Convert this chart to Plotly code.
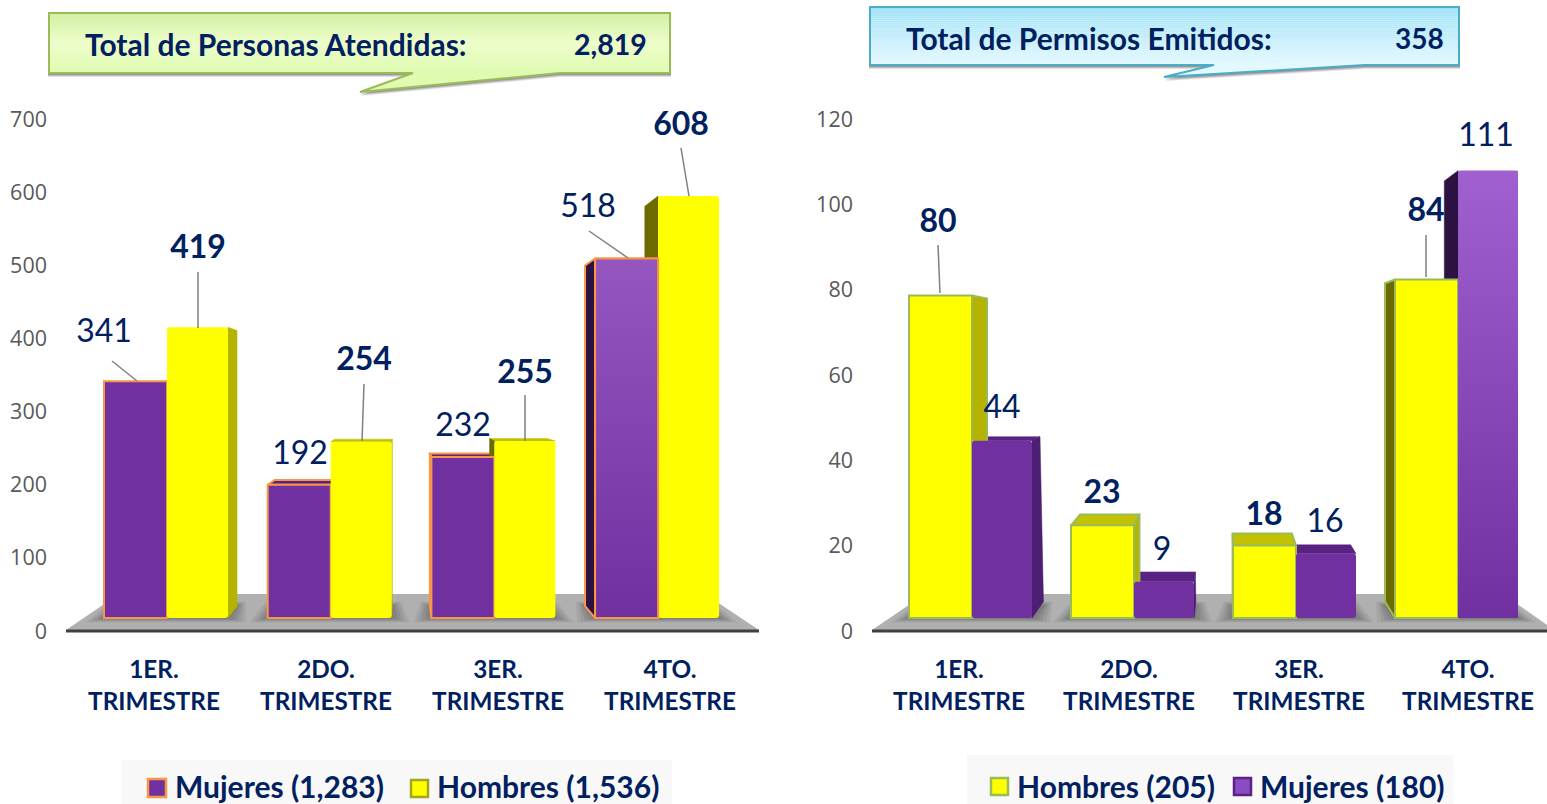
import plotly.graph_objects as go

W, H = 1547, 804
NAVY = "#002060"
PURPLE = "#7030a0"
YELLOW = "#ffff00"

# ---- data
quarters = ["1ER.<br>TRIMESTRE", "2DO.<br>TRIMESTRE", "3ER.<br>TRIMESTRE", "4TO.<br>TRIMESTRE"]
personas_mujeres = [341, 192, 232, 518]
personas_hombres = [419, 254, 255, 608]
permisos_hombres = [80, 23, 18, 84]
permisos_mujeres = [44, 9, 16, 111]
personas_ticks = [0, 100, 200, 300, 400, 500, 600, 700]
permisos_ticks = [0, 20, 40, 60, 80, 100, 120]

# ---- layout constants (pixels of the page)
AX_BOTTOM, AX_TOP, FLOOR_FRONT = 631, 119, 618
px = lambda x: x / W
py = lambda y: 1 - y / H

L = dict(left=66, right=759, ymax=700, c0=167, step=163.7, w1=63, w2=61, s=0.694,
         vp=(402, 392), k=0.052, ticks=[154, 326, 498, 670])
R = dict(left=872, right=1547, ymax=120, c0=972, step=162, w1=63, w2=60, s=4.03,
         vp=(1226, 344), k=0.059, ticks=[959, 1129, 1299, 1468])

FACE = dict(purple=dict(top="#5a2283", right="#4c1f72", left="#2c1240"),
            yellow=dict(top="#c2c200", right="#b4b400", left="#6b6b00"))

fig = go.Figure()
shapes, annots = [], []


def to_x(g, p):
    return (p - g["c0"]) / g["step"]


def to_y(g, p):
    return (AX_BOTTOM - p) * g["ymax"] / (AX_BOTTOM - AX_TOP)


def top_px(g, v):
    return FLOOR_FRONT - g["s"] * v


def back(g, x, y, f=1.0):
    return x + f * g["k"] * (g["vp"][0] - x), y + f * g["k"] * (g["vp"][1] - y)


def poly(g, pts, color, line, xa, ya, width=2):
    xs = [to_x(g, p[0]) for p in pts] + [to_x(g, pts[0][0])]
    ys = [to_y(g, p[1]) for p in pts] + [to_y(g, pts[0][1])]
    fig.add_trace(go.Scatter(x=xs, y=ys, mode="lines", fill="toself", fillcolor=color,
                             line=dict(color=line or color, width=width if line else 0.5),
                             xaxis=xa, yaxis=ya, showlegend=False, hoverinfo="skip"))


def depth_faces(g, values, sign, kind, outline, xa, ya, top_f=1.0):
    w = g["w1"] if sign < 0 else g["w2"]
    for i, v in enumerate(values):
        c = g["c0"] + g["step"] * i
        x0, x1 = (c - w, c) if sign < 0 else (c, c + w)
        t = top_px(g, v)
        col = FACE[kind]
        if t > g["vp"][1]:
            a, b = back(g, x0, t, top_f), back(g, x1, t, top_f)
            poly(g, [(x0, t), (x1, t), b, a], col["top"], outline, xa, ya)
        if x1 < g["vp"][0]:
            a, b = back(g, x1, t, top_f), back(g, x1, FLOOR_FRONT)
            poly(g, [(x1, t), a, b, (x1, FLOOR_FRONT)], col["right"], outline, xa, ya)
        elif x0 > g["vp"][0]:
            a, b = back(g, x0, t), back(g, x0, FLOOR_FRONT)
            poly(g, [(x0, t), a, b, (x0, FLOOR_FRONT)], col["left"], outline, xa, ya)


def front_bars(g, values, sign, name, color, outline, radius, xa, ya):
    w = (g["w1"] if sign < 0 else g["w2"]) / g["step"]
    base = to_y(g, FLOOR_FRONT)
    scale = g["s"] * g["ymax"] / (AX_BOTTOM - AX_TOP)
    fig.add_trace(go.Bar(x=list(range(4)), y=[v * scale for v in values], base=base,
                         width=w, offset=-w if sign < 0 else 0, name=name,
                         marker=dict(color=color, cornerradius=radius,
                                     line=dict(color=outline or color, width=2 if outline else 0)),
                         xaxis=xa, yaxis=ya, showlegend=False, customdata=values,
                         hovertemplate="%{customdata}<extra>" + name + "</extra>"))


def gradient_bar(g, v, sign, c_top, outline, xa, ya):
    w = g["w1"] if sign < 0 else g["w2"]
    c = g["c0"] + g["step"] * 3
    x0, x1 = (c - w, c) if sign < 0 else (c, c + w)
    t = top_px(g, v)
    xs = [to_x(g, x0), to_x(g, x1), to_x(g, x1), to_x(g, x0), to_x(g, x0)]
    ys = [to_y(g, t), to_y(g, t), to_y(g, FLOOR_FRONT), to_y(g, FLOOR_FRONT), to_y(g, t)]
    fig.add_trace(go.Scatter(x=xs, y=ys, mode="lines", fill="toself",
                             fillgradient=dict(type="vertical",
                                               colorscale=[[0, PURPLE], [1, c_top]]),
                             line=dict(color=outline or "rgba(0,0,0,0)", width=2 if outline else 0),
                             xaxis=xa, yaxis=ya, showlegend=False, hoverinfo="skip"))


def floor(g, back_l, back_r, front_l, front_r):
    shapes.append(dict(type="path", xref="paper", yref="paper", layer="below", line=dict(width=0),
                       fillcolor="#b0b0b0",
                       path=f"M{px(front_l)},{py(630)} L{px(back_l)},{py(594)} "
                            f"L{px(back_r)},{py(594)} L{px(front_r)},{py(630)} Z"))
    for i in range(4):
        c = g["c0"] + g["step"] * i
        left, right = c - g["w1"], c + g["w2"]
        bl, _ = back(g, left, FLOOR_FRONT)
        br, _ = back(g, right, FLOOR_FRONT)
        for pad, col in ((18, "#a6a6a6"), (14, "#9b9b9b"), (10, "#8f8f8f"), (6, "#848484"), (2, "#7a7a7a")):
            yt, yb = 606 - pad * 0.25, 618 + pad * 0.25
            shapes.append(dict(type="path", xref="paper", yref="paper", layer="below",
                               line=dict(width=0), fillcolor=col,
                               path=f"M{px(left - pad)},{py(yb)} L{px(bl - pad * 0.5)},{py(yt)} "
                                    f"L{px(br + pad * 0.5)},{py(yt)} L{px(right + pad)},{py(yb)} Z"))
    shapes.append(dict(type="line", xref="paper", yref="paper", layer="above",
                       x0=px(g["left"]), x1=px(g["right"]), y0=py(631), y1=py(631),
                       line=dict(color="#404040", width=3)))


def lerp(c1, c2, t):
    a = [int(c1[i:i + 2], 16) for i in (1, 3, 5)]
    b = [int(c2[i:i + 2], 16) for i in (1, 3, 5)]
    return "#" + "".join(f"{round(a[j] + (b[j] - a[j]) * t):02x}" for j in range(3))


def callout(x0, x1, y0, y1, tail, stops, border):
    tl, tip, tr = tail
    outline = (f"M{px(x0)},{py(y0)} L{px(x1)},{py(y0)} L{px(x1)},{py(y1)} L{px(tr)},{py(y1)} "
               f"L{px(tip[0])},{py(tip[1])} L{px(tl)},{py(y1)} L{px(x0)},{py(y1)} Z")
    for d, op in ((4, 0.12), (3, 0.15), (2, 0.2)):
        sh = (f"M{px(x0 - 1)},{py(y0 + d)} L{px(x1 + 1)},{py(y0 + d)} L{px(x1 + 1)},{py(y1 + d)} "
              f"L{px(tr)},{py(y1 + d)} L{px(tip[0])},{py(tip[1] + d)} L{px(tl)},{py(y1 + d)} "
              f"L{px(x0 - 1)},{py(y1 + d)} Z")
        shapes.append(dict(type="path", xref="paper", yref="paper", path=sh, fillcolor="#000000",
                           opacity=op, line=dict(width=0)))
    shapes.append(dict(type="path", xref="paper", yref="paper", path=outline, fillcolor=stops[-1],
                       line=dict(width=0)))
    n = 30
    for i in range(n):
        t = i / (n - 1)
        c = lerp(stops[0], stops[1], t / 0.5) if t < 0.5 else lerp(stops[1], stops[2], (t - 0.5) / 0.5)
        ya = y0 + (y1 - y0) * i / n
        yb = y0 + (y1 - y0) * (i + 1) / n
        shapes.append(dict(type="rect", xref="paper", yref="paper", x0=px(x0), x1=px(x1),
                           y0=py(ya), y1=py(yb), fillcolor=c, line=dict(width=0)))
    shapes.append(dict(type="path", xref="paper", yref="paper", path=outline,
                       line=dict(color=border, width=2)))


def text(x, y, s, size=30, color=NAVY, anchor="left", bold=True, fam="Lato"):
    annots.append(dict(x=px(x), y=py(y), xref="paper", yref="paper", xanchor=anchor, yanchor="middle",
                       text=f"<b>{s}</b>" if bold else s, showarrow=False, borderpad=0,
                       font=dict(family=fam, size=size, color=color)))


def swatch(x0, x1, y0, y1, fill, border):
    shapes.append(dict(type="rect", xref="paper", yref="paper", x0=px(x0), x1=px(x1),
                       y0=py(y0), y1=py(y1), fillcolor=fill, line=dict(color=border, width=2.5)))


def legend_box(x0, x1, y0, y1):
    shapes.append(dict(type="rect", xref="paper", yref="paper", layer="below", x0=px(x0), x1=px(x1),
                       y0=py(y0), y1=py(y1), fillcolor="#f8f8f8", line=dict(width=0)))


def labels(g, values, pos, bold, xa, ya):
    fig.add_trace(go.Scatter(
        x=[to_x(g, p[0]) for p in pos], y=[to_y(g, p[1] + 4) for p in pos], mode="text",
        text=[f"<b>{v}</b>" if bold else str(v) for v in values], textposition="middle center",
        textfont=dict(family="Lato", size=LABEL_SIZE, color=NAVY), cliponaxis=False,
        xaxis=xa, yaxis=ya, showlegend=False, hoverinfo="skip"))


def leaders(g, segs, xa, ya):
    xs, ys = [], []
    for a, b in segs:
        xs += [to_x(g, a[0]), to_x(g, b[0]), None]
        ys += [to_y(g, a[1]), to_y(g, b[1]), None]
    fig.add_trace(go.Scatter(x=xs, y=ys, mode="lines", line=dict(color="#7f7f7f", width=1.5),
                             xaxis=xa, yaxis=ya, showlegend=False, hoverinfo="skip"))


LABEL_SIZE = 32
ORANGE, GREEN = "#f79646", "#9bbb59"

# ---- left chart
floor(L, 119, 705, 66, 759)
depth_faces(L, personas_mujeres, -1, "purple", ORANGE, "x", "y")
depth_faces(L, personas_hombres, 1, "yellow", None, "x", "y")
front_bars(L, personas_mujeres, -1, "Mujeres", PURPLE, ORANGE, 0, "x3", "y3")
front_bars(L, personas_hombres, 1, "Hombres", YELLOW, None, 3, "x3", "y3")
gradient_bar(L, personas_mujeres[3], -1, "#9556c0", ORANGE, "x3", "y3")
leaders(L, [((112, 361), (137, 381)), ((198, 272), (198, 328)), ((364, 384), (362, 441)),
            ((525, 395), (525, 441)), ((589, 231), (628, 258)), ((681, 148), (689, 196))], "x3", "y3")
labels(L, personas_mujeres, [(104, 330), (300, 452), (463, 424), (588, 205)], False, "x3", "y3")
labels(L, personas_hombres, [(198, 246), (364, 358), (525, 371), (681, 123)], True, "x3", "y3")

# ---- right chart
floor(R, 925, 1503, 872, 1554)
depth_faces(R, permisos_mujeres, 1, "purple", None, "x2", "y2", top_f=0.7)
depth_faces(R, permisos_hombres, -1, "yellow", GREEN, "x2", "y2")
front_bars(R, permisos_hombres, -1, "Hombres", YELLOW, GREEN, 0, "x4", "y4")
front_bars(R, permisos_mujeres, 1, "Mujeres", PURPLE, None, 3, "x4", "y4")
gradient_bar(R, permisos_mujeres[3], 1, "#a060d0", None, "x4", "y4")
leaders(R, [((938, 245), (940, 293)), ((1426, 235), (1426, 277))], "x4", "y4")
labels(R, permisos_hombres, [(938, 220), (1102, 491), (1264, 513), (1426, 209)], True, "x4", "y4")
labels(R, permisos_mujeres, [(1002, 406), (1162, 548), (1325, 520), (1486, 134)], False, "x4", "y4")

# ---- callouts
callout(49, 670, 13, 73, (413, (360, 92), 560), ("#d3f1a6", "#eefdca", "#dffbb2"), GREEN)
text(84, 44, "Total de Personas Atendidas:")
text(648, 44, "2,819", size=28.5, anchor="right")
callout(870, 1459, 7, 65, (1214, (1164, 77), 1365), ("#9fe2f6", "#c6eefb", "#e4f8ff"), "#4bacc6")
text(905, 38, "Total de Permisos Emitidos:")
text(1445, 38, "358", size=28, anchor="right")

# ---- legends
legend_box(121, 672, 760, 804)
swatch(148, 166, 779, 797, PURPLE, ORANGE)
text(174, 786, "Mujeres (1,283)")
swatch(411, 428, 780, 797, YELLOW, "#a5a520")
text(436, 786, "Hombres (1,536)")
legend_box(967, 1453, 755, 804)
swatch(991, 1008, 778, 795, YELLOW, GREEN)
text(1016, 786, "Hombres (205)")
swatch(1234, 1251, 778, 795, "#8a4cc0", "#5a2283")
text(1259, 786, "Mujeres (180)")


def xaxis(g, visible=True, **kw):
    d = dict(domain=[px(g["left"]), px(g["right"])],
             range=[to_x(g, g["left"]), to_x(g, g["right"])], showgrid=False, zeroline=False,
             showline=False, fixedrange=True, **kw)
    if visible:
        d.update(tickmode="array", tickvals=[to_x(g, t) for t in g["ticks"]], ticktext=quarters,
                 ticks="", ticklabelstandoff=22,
                 tickfont=dict(family="Lato", size=24.3, color=NAVY, weight="bold"))
    else:
        d.update(visible=False)
    return d


def yaxis(g, ticks, visible=True, **kw):
    d = dict(domain=[py(AX_BOTTOM), py(AX_TOP)], range=[0, g["ymax"]], showgrid=False,
             zeroline=False, showline=False, fixedrange=True, **kw)
    if visible:
        d.update(tickmode="array", tickvals=ticks, ticks="", ticklabelstandoff=18,
                 tickfont=dict(family="Open Sans", size=21.5, color="#595959"))
    else:
        d.update(visible=False)
    return d


fig.update_layout(
    width=W, height=H, margin=dict(l=0, r=0, t=0, b=0, pad=0, autoexpand=False), autosize=False,
    paper_bgcolor="white", plot_bgcolor="rgba(0,0,0,0)", barmode="overlay", showlegend=False,
    shapes=shapes, annotations=annots,
    xaxis=xaxis(L, anchor="y"), yaxis=yaxis(L, personas_ticks, anchor="x"),
    xaxis2=xaxis(R, anchor="y2"), yaxis2=yaxis(R, permisos_ticks, anchor="x2"),
    xaxis3=xaxis(L, visible=False, anchor="y3", overlaying="x"),
    yaxis3=yaxis(L, personas_ticks, visible=False, anchor="x3", overlaying="y"),
    xaxis4=xaxis(R, visible=False, anchor="y4", overlaying="x2"),
    yaxis4=yaxis(R, permisos_ticks, visible=False, anchor="x4", overlaying="y2"),
)
fig.write_html("out.html", config=dict(displayModeBar=False),
               post_script="document.body.style.margin='0';document.documentElement.style.overflow='hidden';")
